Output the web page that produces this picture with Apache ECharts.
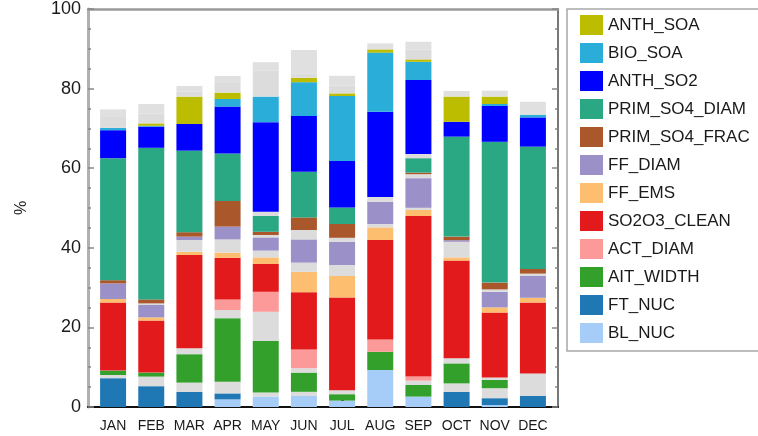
<!DOCTYPE html>
<html>
<head>
<meta charset="utf-8">
<script src="https://cdn.jsdelivr.net/npm/echarts@6/dist/echarts.min.js"></script>
<style>html,body{margin:0;padding:0;background:#fff;}#c{width:758px;height:436px;}</style>
</head>
<body>
<div id="c"></div>
<script>
var months = ['JAN','FEB','MAR','APR','MAY','JUN','JUL','AUG','SEP','OCT','NOV','DEC'];
var yTicks = [0, 20, 40, 60, 80, 100];

var BL_NUC        = [0, 0, 0, 1.9, 2.6, 2.75, 1.6, 9.25, 2.6, 0, 0.5, 0];
var FT_NUC        = [7.2, 5.2, 3.8, 1.5, 0, 0, 0, 0, 0, 3.8, 1.7, 2.75];
var OTHER_1       = [0.8, 2.4, 2.3, 2.9, 1.0, 1.05, 0, 0, 0, 2.1, 2.5, 5.65];
var AIT_WIDTH     = [1.1, 1.0, 7.1, 15.9, 12.9, 4.8, 1.6, 4.55, 2.9, 5.0, 2.05, 0];
var OTHER_2       = [0, 0, 1.5, 2.05, 7.3, 1.1, 1.0, 0, 1.1, 1.3, 0.65, 0];
var ACT_DIAM      = [0, 0, 0, 2.65, 5.0, 4.7, 0, 3.1, 1.0, 0, 0, 0];
var SO2O3_CLEAN   = [17.0, 13.0, 23.3, 10.4, 6.95, 14.3, 23.2, 24.85, 40.15, 24.4, 16.2, 17.7];
var FF_EMS        = [0.9, 0.8, 0.8, 1.3, 1.65, 5.1, 5.35, 3.15, 1.5, 0.8, 1.3, 1.2];
var OTHER_3       = [0, 0, 2.95, 3.3, 1.7, 2.3, 2.75, 0.85, 0.55, 3.9, 0, 0];
var FF_DIAM       = [3.9, 3.1, 0.85, 3.2, 3.3, 5.8, 5.8, 5.55, 7.4, 0.4, 3.9, 5.45];
var OTHER_4       = [0, 0.4, 0, 0, 0.6, 2.35, 1.0, 1.2, 1.0, 0, 0.6, 0.6];
var PRIM_SO4_FRAC = [0.8, 1.0, 1.1, 6.4, 0.8, 3.15, 3.45, 0, 0.4, 0.9, 1.7, 1.15];
var PRIM_SO4_DIAM = [30.5, 37.9, 20.4, 11.9, 3.95, 11.4, 4.15, 0, 3.6, 25.0, 35.2, 30.6];
var OTHER_5       = [0, 0, 0, 0, 1.05, 0, 0, 0, 1.05, 0, 0, 0];
var ANTH_SO2      = [7.0, 5.3, 6.65, 11.7, 22.4, 13.95, 11.6, 21.3, 18.5, 3.7, 8.95, 7.3];
var BIO_SOA       = [0.6, 0.2, 0, 1.9, 6.4, 8.45, 16.25, 14.8, 4.55, 0, 0.5, 0.6];
var ANTH_SOA      = [0, 0.6, 6.85, 1.6, 0, 1.1, 0.65, 0.8, 0.6, 6.3, 1.85, 0];
var OTHER_6       = [2.7, 2.5, 1.3, 2.4, 6.5, 1.0, 2.0, 0, 2.4, 0, 0, 0];
var OTHER_7       = [1.9, 2.35, 1.35, 1.75, 2.1, 5.95, 2.4, 1.5, 2.0, 1.4, 1.5, 3.3];

var GRAY = '#dcdcdc';
var stackDefs = [
  ['BL_NUC', BL_NUC, '#a6cdf7'],
  ['FT_NUC', FT_NUC, '#1f78b4'],
  ['OTHER_1', OTHER_1, GRAY],
  ['AIT_WIDTH', AIT_WIDTH, '#33a02c'],
  ['OTHER_2', OTHER_2, GRAY],
  ['ACT_DIAM', ACT_DIAM, '#fb9a99'],
  ['SO2O3_CLEAN', SO2O3_CLEAN, '#e31a1c'],
  ['FF_EMS', FF_EMS, '#fdbf6f'],
  ['OTHER_3', OTHER_3, GRAY],
  ['FF_DIAM', FF_DIAM, '#9b90c8'],
  ['OTHER_4', OTHER_4, GRAY],
  ['PRIM_SO4_FRAC', PRIM_SO4_FRAC, '#a9572b'],
  ['PRIM_SO4_DIAM', PRIM_SO4_DIAM, '#2aa884'],
  ['OTHER_5', OTHER_5, GRAY],
  ['ANTH_SO2', ANTH_SO2, '#0000ff'],
  ['BIO_SOA', BIO_SOA, '#2aaed9'],
  ['ANTH_SOA', ANTH_SOA, '#bcbd00'],
  ['OTHER_6', OTHER_6, GRAY],
  ['OTHER_7', OTHER_7, '#e0e0e0']
];
var legendNames = ['ANTH_SOA','BIO_SOA','ANTH_SO2','PRIM_SO4_DIAM','PRIM_SO4_FRAC','FF_DIAM','FF_EMS','SO2O3_CLEAN','ACT_DIAM','AIT_WIDTH','FT_NUC','BL_NUC'];

var series = stackDefs.map(function (d) {
  return {
    name: d[0],
    type: 'bar',
    stack: 'total',
    xAxisIndex: 0,
    yAxisIndex: 0,
    barWidth: 26,
    data: d[1],
    itemStyle: { color: d[2] },
    emphasis: { disabled: true }
  };
});

var FONT = 'Liberation Sans';
var chart = echarts.init(document.getElementById('c'), null, { renderer: 'canvas' });
chart.setOption({
  animation: false,
  backgroundColor: '#fff',
  textStyle: { fontFamily: FONT },
  legend: {
    data: legendNames,
    orient: 'vertical',
    left: 567,
    top: 9,
    padding: [6, 60, 8, 13],
    itemWidth: 23,
    itemHeight: 20,
    itemGap: 8,
    icon: 'rect',
    borderColor: '#a8a8a8',
    borderWidth: 1.5,
    selectedMode: false,
    textStyle: { fontFamily: FONT, fontSize: 17, color: '#1a1a1a' }
  },
  grid: [
    { left: 94, right: 206, top: 7, bottom: 29, containLabel: false },
    { left: 88, right: 200, top: 7, bottom: 29, containLabel: false }
  ],
  xAxis: [
    {
      type: 'category', gridIndex: 0, data: months,
      axisLine: { show: false },
      axisTick: { show: true, inside: true, alignWithLabel: true, length: 7, lineStyle: { color: '#000', width: 3 } },
      axisLabel: { interval: 0, fontFamily: FONT, fontSize: 14, color: '#1a1a1a', margin: 12 },
      splitLine: { show: false }
    },
    {
      type: 'value', gridIndex: 1, position: 'bottom', min: 0, max: 1,
      axisLine: { show: true, onZero: false, lineStyle: { color: '#111', width: 2 } },
      axisTick: { show: false }, axisLabel: { show: false }, splitLine: { show: false }
    },
    {
      type: 'value', gridIndex: 1, position: 'top', min: 0, max: 1,
      axisLine: { show: true, onZero: false, lineStyle: { color: '#9a9a9a', width: 2.5 } },
      axisTick: { show: false }, axisLabel: { show: false }, splitLine: { show: false }
    }
  ],
  yAxis: [
    {
      type: 'value', gridIndex: 0, min: 0, max: 100, interval: 20,
      axisLine: { show: false }, axisTick: { show: false }, axisLabel: { show: false },
      splitLine: { show: false }
    },
    {
      type: 'value', gridIndex: 1, position: 'left', min: 0, max: 100, interval: 20,
      name: '%', nameLocation: 'middle', nameGap: 58, nameRotate: 90,
      nameTextStyle: { fontFamily: FONT, fontSize: 16, color: '#1a1a1a' },
      axisLine: { show: true, onZero: false, lineStyle: { color: '#b0b0b0', width: 3 } },
      axisTick: { show: true, inside: true, length: 6, lineStyle: { color: '#888', width: 1.5 } },
      minorTick: { show: true, splitNumber: 4, length: 3, lineStyle: { color: '#888', width: 1.5 } },
      axisLabel: {
        fontFamily: FONT, fontSize: 18, color: '#1a1a1a', margin: 7,
        formatter: function (v) { return yTicks.indexOf(v) >= 0 ? String(v) : ''; }
      },
      splitLine: { show: false }
    },
    {
      type: 'value', gridIndex: 1, position: 'right', min: 0, max: 100, interval: 20,
      axisLine: { show: true, onZero: false, lineStyle: { color: '#777', width: 2 } },
      axisTick: { show: true, inside: true, length: 6, lineStyle: { color: '#888', width: 1.5 } },
      minorTick: { show: true, splitNumber: 4, length: 3, lineStyle: { color: '#888', width: 1.5 } },
      axisLabel: { show: false },
      splitLine: { show: false }
    }
  ],
  series: series
});
</script>
</body>
</html>
